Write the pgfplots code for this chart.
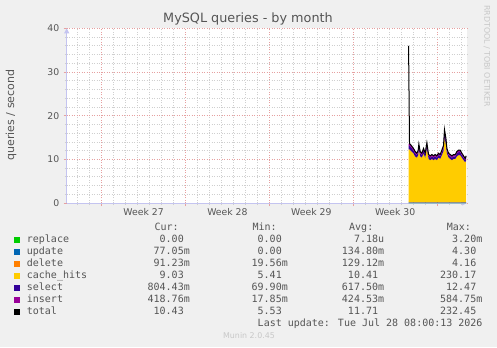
\documentclass[border=0pt]{standalone}
\usepackage{pgfplots}
\pgfplotsset{compat=1.18}
\usepackage{pgfplotstable}
\usepackage{fontspec}
\setmainfont{DejaVu Sans}
\newfontfamily\mono{DejaVu Sans Mono}
\usetikzlibrary{arrows.meta}
\definecolor{bgc}{HTML}{F0F0F0}
\definecolor{txt}{HTML}{555555}
\definecolor{faint}{HTML}{C8C8C8}
\definecolor{axc}{HTML}{C4C4F0}
\definecolor{mgrid}{HTML}{E6A0A0}
\definecolor{ngrid}{HTML}{CFCFCF}
\definecolor{repc}{HTML}{00CC00}
\definecolor{updc}{HTML}{0066B3}
\definecolor{delc}{HTML}{FF8000}
\definecolor{cachec}{HTML}{FFCC00}
\definecolor{selc}{HTML}{330099}
\definecolor{insc}{HTML}{990099}
\newcommand\legfont{\mono\fontsize{10bp}{12bp}\selectfont}
\newcommand\tickfont{\fontsize{9.3bp}{11bp}\selectfont}

\pgfplotstableread{
x rep upd del cache sel ins
25.62 0 0.13 0.13 12.04 0.80 0.50
25.70 0 0.13 0.13 12.04 0.80 0.50
25.84 0 0.13 0.13 11.64 0.80 0.50
26.03 0 0.13 0.13 11.09 0.70 0.45
26.17 0 0.13 0.13 10.39 0.70 0.45
26.31 0 0.13 0.13 10.14 0.60 0.40
26.42 0 0.13 0.13 10.64 0.70 0.40
26.48 0 0.13 0.13 11.94 0.80 0.50
26.59 0 0.13 0.13 10.44 0.70 0.40
26.73 0 0.13 0.13 10.14 0.60 0.40
26.87 0 0.13 0.13 11.09 0.70 0.45
27.01 0 0.13 0.13 10.14 0.60 0.40
27.15 0 0.13 0.13 12.24 0.80 0.50
27.29 0 0.13 0.13 9.84 0.60 0.40
27.43 0 0.13 0.13 9.54 0.60 0.40
27.57 0 0.13 0.13 9.84 0.60 0.40
27.71 0 0.13 0.13 9.54 0.60 0.40
27.84 0 0.13 0.13 9.84 0.60 0.40
27.98 0 0.13 0.13 9.54 0.60 0.40
28.12 0 0.13 0.13 10.14 0.60 0.40
28.26 0 0.13 0.13 9.84 0.60 0.40
28.40 0 0.13 0.13 10.69 0.70 0.45
28.54 0 0.13 0.13 11.64 0.80 0.50
28.62 0 0.13 0.13 14.94 1.00 0.60
28.74 0 0.13 0.13 13.09 0.90 0.55
28.82 0 0.13 0.13 11.09 0.70 0.45
28.96 0 0.13 0.13 10.14 0.60 0.40
29.10 0 0.13 0.13 9.84 0.60 0.40
29.24 0 0.13 0.13 9.54 0.60 0.40
29.38 0 0.13 0.13 9.84 0.60 0.40
29.52 0 0.13 0.13 9.84 0.60 0.40
29.66 0 0.13 0.13 10.44 0.70 0.40
29.79 0 0.13 0.13 10.69 0.70 0.45
29.93 0 0.13 0.13 10.69 0.70 0.45
30.07 0 0.13 0.13 10.14 0.60 0.40
30.21 0 0.13 0.13 9.54 0.60 0.40
30.35 0 0.13 0.13 9.09 0.50 0.35
30.43 0 0.13 0.13 9.54 0.60 0.40
}\stacktab

\pgfplotstableread{
x total
25.62 36.0
25.70 13.6
25.84 13.2
26.03 12.5
26.17 11.8
26.31 11.4
26.42 12.0
26.48 13.5
26.59 11.8
26.73 11.4
26.87 12.5
27.01 11.4
27.15 13.8
27.29 11.1
27.43 10.8
27.57 11.1
27.71 10.8
27.84 11.1
27.98 10.8
28.12 11.4
28.26 11.1
28.40 12.1
28.54 13.2
28.62 16.8
28.74 14.8
28.82 12.5
28.96 11.4
29.10 11.1
29.24 10.8
29.38 11.1
29.52 11.1
29.66 11.8
29.79 12.1
29.93 12.1
30.07 11.4
30.21 10.8
30.35 10.2
30.43 10.8
}\totaltab

\newcommand\legrow[7]{%
  \fill[#2] (14,#1-3) rectangle (20,#1+3);
  \node[anchor=mid west,inner sep=0,text=txt,font=\legfont] at (26.7,#1) {#3};
  \node[anchor=mid east,inner sep=0,text=txt,font=\legfont] at (190,#1) {#4};
  \node[anchor=mid east,inner sep=0,text=txt,font=\legfont] at (288,#1) {#5};
  \node[anchor=mid east,inner sep=0,text=txt,font=\legfont] at (384.3,#1) {#6};
  \node[anchor=mid east,inner sep=0,text=txt,font=\legfont] at (482.5,#1) {#7};
}

\begin{document}
\begin{tikzpicture}[x=1bp,y=1bp]
\fill[bgc] (0,0) rectangle (497,347);
\begin{axis}[
  at={(66.7bp,144bp)}, anchor=south west,
  scale only axis, width=400.3bp, height=174.7bp,
  xmin=-2.92, xmax=30.5, ymin=0, ymax=40,
  axis background/.style={fill=white},
  axis x line=bottom, axis y line=left,
  axis line style={draw=axc, line width=0.8bp},
  x axis line style={-{Triangle[length=5bp,width=5bp]}},
  y axis line style={-{Triangle[length=5bp,width=5bp]}},
  xtick={0,7,14,21,28},
  xticklabels={Week 27,Week 28,Week 29,Week 30},
  x tick label as interval,
  minor xtick={-2,-1,1,2,3,4,5,6,8,9,10,11,12,13,15,16,17,18,19,20,22,23,24,25,26,27,29,30},
  ytick={0,10,20,30,40},
  minor ytick={2,4,6,8,12,14,16,18,22,24,26,28,32,34,36,38},
  grid=both,
  major grid style={draw=mgrid, line width=0.7bp, dash pattern=on 1bp off 1.5bp},
  minor grid style={draw=ngrid, line width=0.7bp, dash pattern=on 1bp off 1.5bp},
  tick align=outside,
  major tick length=3bp, minor tick length=2bp,
  major tick style={draw=mgrid, line width=0.6bp},
  minor tick style={draw=ngrid, line width=0.6bp},
  ticklabel style={text=txt, font=\tickfont},
  /pgf/number format/assume math mode=true,
  xticklabel style={yshift=1bp},
  yticklabel style={xshift=-1bp},
  clip=false,
]
\addplot[fill=repc, draw=none, stack plots=y] table[x=x,y=rep]{\stacktab} \closedcycle;
\addplot[fill=updc, draw=none, stack plots=y] table[x=x,y=upd]{\stacktab} \closedcycle;
\addplot[fill=delc, draw=none, stack plots=y] table[x=x,y=del]{\stacktab} \closedcycle;
\addplot[fill=cachec, draw=none, stack plots=y] table[x=x,y=cache]{\stacktab} \closedcycle;
\addplot[fill=selc, draw=none, stack plots=y] table[x=x,y=sel]{\stacktab} \closedcycle;
\addplot[fill=insc, draw=none, stack plots=y] table[x=x,y=ins]{\stacktab} \closedcycle;
\addplot[black, line width=1bp, stack plots=false] table[x=x,y=total]{\totaltab};
\end{axis}
\node[text=txt, font=\fontsize{12.8bp}{15bp}\selectfont] at (248,328) {MySQL queries - by month};
\node[text=txt, rotate=90, font=\fontsize{11bp}{13bp}\selectfont] at (11,232) {queries / second};
\node[text=faint, rotate=-90, font=\fontsize{7.9bp}{9bp}\selectfont] at (487,291) {RRDTOOL / TOBI OETIKER};
\node[anchor=mid west,inner sep=0,text=txt,font=\legfont] at (154.3,119) {Cur:};
\node[anchor=mid west,inner sep=0,text=txt,font=\legfont] at (252.3,119) {Min:};
\node[anchor=mid west,inner sep=0,text=txt,font=\legfont] at (349,119) {Avg:};
\node[anchor=mid west,inner sep=0,text=txt,font=\legfont] at (446.7,119) {Max:};
\legrow{107}{repc}{replace}{0.00\phantom{m}}{0.00\phantom{m}}{7.18u}{3.20m}
\legrow{95}{updc}{update}{77.05m}{0.00\phantom{m}}{134.80m}{4.30\phantom{m}}
\legrow{83}{delc}{delete}{91.23m}{19.56m}{129.12m}{4.16\phantom{m}}
\legrow{71}{cachec}{cache\_hits}{9.03\phantom{m}}{5.41\phantom{m}}{10.41\phantom{m}}{230.17\phantom{m}}
\legrow{59}{selc}{select}{804.43m}{69.90m}{617.50m}{12.47\phantom{m}}
\legrow{47}{insc}{insert}{418.76m}{17.85m}{424.53m}{584.75m}
\legrow{35}{black}{total}{10.43\phantom{m}}{5.53\phantom{m}}{11.71\phantom{m}}{232.45\phantom{m}}
\node[anchor=mid east,inner sep=0,text=txt,font=\legfont] at (482.7,23) {Last update: Tue Jul 28 08:00:13 2026};
\node[text=faint, font=\fontsize{7.9bp}{9bp}\selectfont] at (249,11) {Munin 2.0.45};
\end{tikzpicture}
\end{document}
